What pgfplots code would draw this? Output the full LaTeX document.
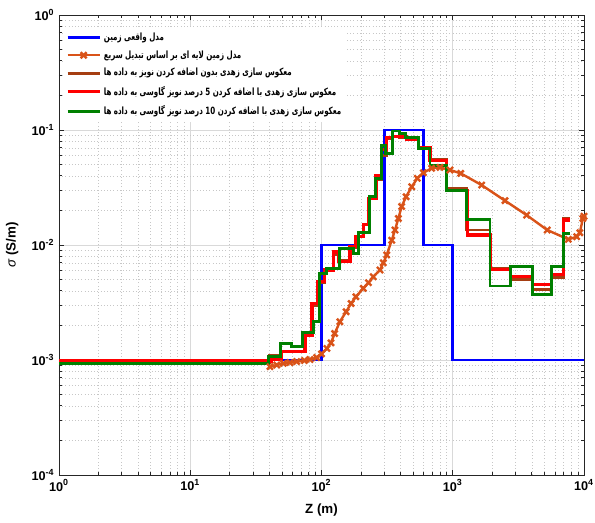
\documentclass[border=0pt]{standalone}
\usepackage{fontspec}
\setmainfont{Liberation Sans}
\newfontfamily\arabicfont[Script=Arabic]{DejaVu Sans}
\TeXXeTstate=1
\usepackage{graphicx}
\usepackage{pgfplots}
\pgfplotsset{compat=1.18}

\definecolor{mblue}{RGB}{0,0,255}
\definecolor{morange}{RGB}{217,83,25}
\definecolor{mbrown}{RGB}{165,62,18}
\definecolor{mred}{RGB}{255,0,0}
\definecolor{mgreen}{RGB}{0,128,0}
\definecolor{axgray}{RGB}{38,38,38}

% right-to-left legend text, slightly condensed
\newcommand{\ar}[1]{\scalebox{0.71}[1]{\arabicfont\bfseries\beginR #1\endR}}

\begin{document}
\begin{tikzpicture}
\useasboundingbox (-44.25pt,-35.25pt) rectangle (402pt,356.25pt);
\begin{axis}[
  scale only axis,
  width=393.75pt, height=345pt,
  xmode=log, ymode=log,
  xmin=1, xmax=10000, ymin=1e-4, ymax=1,
  xtick={1,10,100,1000,10000},
  xticklabels={10\textsuperscript{0},10\textsuperscript{1},10\textsuperscript{2},10\textsuperscript{3},10\textsuperscript{4}},
  ytick={1e-4,1e-3,1e-2,1e-1,1},
  yticklabels={10\textsuperscript{-4},10\textsuperscript{-3},10\textsuperscript{-2},10\textsuperscript{-1},10\textsuperscript{0}},
  ticklabel style={font=\fontsize{9.5}{11}\selectfont\bfseries, text=black},
  tick align=inside,
  major tick length=4pt, minor tick length=2.2pt,
  every tick/.style={axgray, line width=0.5pt},
  axis line style={axgray, line width=0.6pt},
  grid=both,
  major grid style={line width=0.4pt, black!15},
  minor grid style={line width=0.4pt, black!22, dotted},
  xlabel={\textbf{Z (m)}},
  ylabel={\textit{σ} \textbf{(S/m)}},
  label style={font=\fontsize{10}{12}\selectfont},
  xlabel style={yshift=-3pt},
  ylabel style={yshift=3pt},
  legend cell align=left,
  legend style={at={(0.008,0.974)}, anchor=north west, draw=none, fill=white,
    font=\fontsize{7.5}{9}\selectfont, row sep=2.2pt, inner sep=2pt},
  legend image code/.code={\draw[mark repeat=2,mark phase=2,#1] plot coordinates {(0cm,0cm) (0.42cm,0cm) (0.84cm,0cm)};},
]

% true earth model
\addplot[mblue, line width=2.2pt] coordinates {
  (1,1e-3) (100,1e-3) (100,1e-2) (300,1e-2) (300,0.1) (600,0.1)
  (600,1e-2) (1000,1e-2) (1000,1e-3) (10000,1e-3)};
\addlegendentry{\ar{مدل واقعی زمین}}

% layered model from the fast transform
\addplot[morange, line width=1.8pt, mark=x, mark size=3.2pt, mark options={line width=1.8pt}] coordinates {
  (40.5,8.75e-4) (45.6,9.05e-4) (51.2,9.35e-4) (57.5,9.5e-4) (64.7,9.7e-4)
  (74,9.9e-4) (81.7,1.01e-3) (91.9,1.05e-3) (100,1.13e-3) (110,1.26e-3)
  (118,1.41e-3) (126,1.70e-3) (138,2.15e-3) (154,2.63e-3) (168,3.1e-3)
  (183,3.55e-3) (208,4.2e-3) (228,4.7e-3) (248,5.3e-3) (279,6.06e-3)
  (296,7.0e-3) (314,8.2e-3) (343,0.011) (363,0.0135) (385,0.017)
  (408,0.0216) (441,0.0263) (487,0.0321) (537,0.038) (597,0.0425)
  (691,0.0465) (800,0.0473) (953,0.0449) (1150,0.042) (1661,0.0332)
  (2500,0.0243) (3656,0.0182) (5248,0.0135) (7600,0.0112) (8800,0.0118)
  (9300,0.0128) (9800,0.0170) (10000,0.0178)};
\addlegendentry{\ar{مدل زمین لایه ای بر اساس تبدیل سریع}}

% inversion, noise-free data
\addplot[mbrown, line width=2.2pt, const plot] coordinates {
  (1,9.6e-4) (40,1.1e-3) (49.8,1.18e-3) (74.9,1.65e-3) (84.6,3.0e-3)
  (93.5,4.7e-3) (105.8,6.0e-3) (122.7,8.2e-3) (138,7.4e-3) (165,9.6e-3)
  (181,0.0118) (208,0.0150) (228,0.0255) (260,0.037) (285,0.060)
  (315,0.085) (349,0.087) (396,0.0865) (445,0.082) (549,0.069)
  (671,0.055) (891,0.031) (1264,0.0135) (1922,0.0062) (2755,0.0050)
  (4045,0.0041) (5650,0.0052) (7020,0.0170) (7880,0.0170)};
\addlegendentry{\ar{معکوس سازی زهدی بدون اضافه کردن نویز به داده ها}}

% inversion, 5 percent Gaussian noise
\addplot[mred, line width=2.4pt, const plot] coordinates {
  (1,9.8e-4) (41.7,1.02e-3) (49.8,1.18e-3) (74.9,1.65e-3) (84.6,3.1e-3)
  (93.5,4.8e-3) (105.8,6.07e-3) (122.7,8.7e-3) (134.5,7.2e-3) (165,9.7e-3)
  (181,0.0118) (208,0.0150) (228,0.0255) (260,0.040) (285,0.068)
  (315,0.086) (349,0.0885) (396,0.0875) (445,0.0835) (549,0.0697)
  (671,0.054) (891,0.030) (1290,0.0122) (1950,0.0061) (2755,0.0053)
  (4045,0.0045) (5650,0.0055) (7020,0.0165) (7880,0.0165)};
\addlegendentry{\ar{معکوس سازی زهدی با اضافه کردن \beginL5\endL{} درصد نویز گاوسی به داده ها}}

% inversion, 10 percent Gaussian noise
\addplot[mgreen, line width=2.2pt, const plot] coordinates {
  (1,9.3e-4) (39.3,1.07e-3) (48.7,1.39e-3) (59.3,1.31e-3) (71.9,1.74e-3)
  (86.6,2.15e-3) (96.2,5.67e-3) (109,6.27e-3) (138,9.4e-3) (176,8.5e-3)
  (192,0.0128) (234,0.0262) (260,0.038) (288,0.073) (308,0.0627)
  (349,0.098) (396,0.094) (434,0.086) (549,0.0695) (671,0.0496)
  (891,0.030) (1264,0.0167) (1922,0.0044) (2755,0.0065) (4045,0.0037)
  (5650,0.00645) (7020,0.0126) (7880,0.0126)};
\addlegendentry{\ar{معکوس سازی زهدی با اضافه کردن  \beginL10\endL{} درصد نویز گاوسی به داده ها}}

\end{axis}
\end{tikzpicture}
\end{document}
